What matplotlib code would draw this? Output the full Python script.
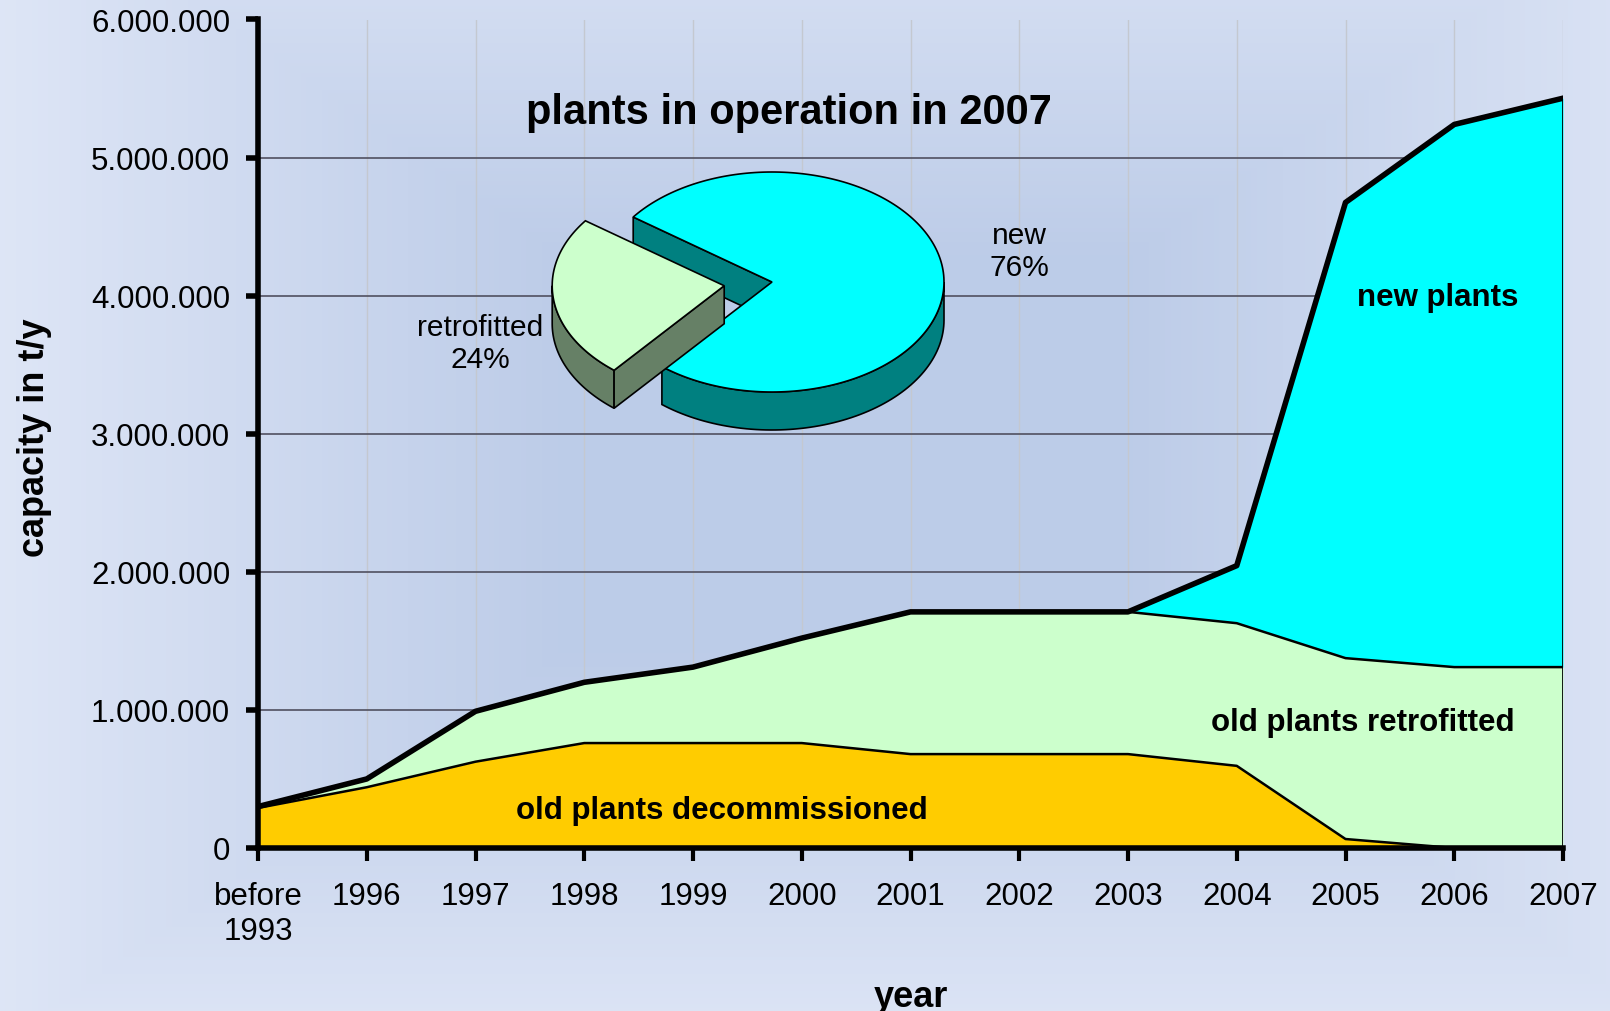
import numpy as np
import matplotlib
matplotlib.use("Agg")
import matplotlib.pyplot as plt
from matplotlib.patches import Polygon
from matplotlib.ticker import FuncFormatter

plt.rcParams['font.family'] = ['Liberation Sans', 'DejaVu Sans']

# data (t/y)
years = ["before\n1993", "1996", "1997", "1998", "1999", "2000", "2001",
         "2002", "2003", "2004", "2005", "2006", "2007"]
decommissioned = [290000, 440000, 625000, 760000, 760000, 760000, 680000,
                  680000, 680000, 595000, 65000, 0, 0]
retrofitted = [10000, 60000, 365000, 440000, 550000, 760000, 1030000,
               1030000, 1030000, 1033000, 1310000, 1310000, 1310000]
new_plants = [0, 0, 0, 0, 0, 0, 0, 0, 0, 417000, 3300000, 3930000, 4120000]

pie_labels = ["new", "retrofitted"]
pie_shares = [76, 24]

W, H = 1610, 1012
fig = plt.figure(figsize=(W / 100, H / 100), dpi=100)

# background: rectangular gradient, dark in the middle, light at the edges
bg = fig.add_axes([0, 0, 1, 1], zorder=-2)
gx = np.linspace(-1, 1, 300)
gy = np.linspace(-1, 1, 300)
GX, GY = np.meshgrid(gx, gy)
d = np.maximum(np.abs(GX - 0.05), np.abs(GY - 0.1) * 0.9)
t = np.clip((d - 0.35) / 0.7, 0, 1)[..., None]
centre = np.array([0.74, 0.80, 0.91])
edge = np.array([0.87, 0.90, 0.965])
img = centre * (1 - t) + edge * t
bg.imshow(img, extent=[0, 1, 0, 1], aspect='auto', origin='lower')
bg.axis('off')

ax = fig.add_axes([258 / W, 1 - 849 / H, (1563 - 258) / W, (849 - 20.5) / H], zorder=1)
ax.patch.set_alpha(0)

x = np.arange(len(years))
dec = np.array(decommissioned)
ret = dec + np.array(retrofitted)
tot = ret + np.array(new_plants)

ax.fill_between(x, 0, dec, color='#ffcc00', zorder=3, lw=0)
ax.fill_between(x, dec, ret, color='#ccffcc', zorder=3, lw=0)
ax.fill_between(x, ret, tot, color='#00ffff', zorder=3, lw=0)
ax.plot(x, dec, color='black', lw=1.8, zorder=4)
ax.plot(x, ret, color='black', lw=1.8, zorder=4)
ax.plot(x, tot, color='black', lw=4, zorder=5, solid_joinstyle='round')
ax.plot([x[-1], x[-1]], [0, tot[-1]], color='black', lw=2, zorder=4)

ax.set_xlim(0, len(years) - 1)
ax.set_ylim(0, 6000000)
ax.set_yticks(np.arange(0, 6000001, 1000000))
ax.yaxis.set_major_formatter(FuncFormatter(lambda v, p: f"{int(v):,}".replace(",", ".")))
ax.set_xticks(x)
ax.set_xticklabels(years)

for v in range(1, 7):
    ax.axhline(v * 1000000, color='#505060', lw=1.2, zorder=2)
for xi in x[1:]:
    ax.axvline(xi, color='#c4c8d0', lw=1, zorder=1)

for s in ['top', 'right']:
    ax.spines[s].set_visible(False)
for s in ['left', 'bottom']:
    ax.spines[s].set_linewidth(4)
    ax.spines[s].set_zorder(6)
ax.tick_params(axis='y', length=9, width=4, pad=11, labelsize=22.5)
ax.tick_params(axis='x', length=9, width=3, pad=15, labelsize=22.5)

ax.set_ylabel("capacity in t/y", fontsize=26, fontweight='bold')
ax.yaxis.set_label_coords(-0.158, 0.497)
ax.set_xlabel("year", fontsize=26, fontweight='bold')
ax.xaxis.set_label_coords(0.5, -0.158)

ax.text(10.85, 3990000, "new plants", fontsize=22.5, fontweight='bold',
        ha='center', va='center', zorder=7)
ax.text(10.16, 915000, "old plants retrofitted", fontsize=22.5, fontweight='bold',
        ha='center', va='center', zorder=7)
ax.text(4.27, 275000, "old plants decommissioned", fontsize=22.5, fontweight='bold',
        ha='center', va='center', zorder=7)

# 3d pie inset drawn in pixel space
pa = fig.add_axes([0, 0, 1, 1], zorder=5)
pa.set_xlim(0, W)
pa.set_ylim(H, 0)
pa.axis('off')
pa.patch.set_alpha(0)

cx, cy, rx, ry, depth = 772, 283, 172, 110, 38
explode = 0.28


def ept(a, ox, oy, dz=0):
    r = np.radians(a)
    return np.column_stack([ox + rx * np.cos(r), oy - ry * np.sin(r) + dz])


def draw_slice(a0, a1, ox, oy, top, side):
    # outer rim, only the front half is visible
    for lo, hi in [(180, 360), (540, 720)]:
        s, e = max(a0, lo), min(a1, hi)
        if e > s:
            aa = np.linspace(s, e, 80)
            up = ept(aa, ox, oy)
            dn = ept(aa[::-1], ox, oy, depth)
            pa.add_patch(Polygon(np.vstack([up, dn]), closed=True, fc=side, ec='black', lw=1.2))
    # radial walls facing the viewer
    for a, vis in [(a0, np.cos(np.radians(a0)) > 0), (a1, np.cos(np.radians(a1)) < 0)]:
        if vis:
            p = ept(np.array([a]), ox, oy)[0]
            pts = [[ox, oy], p, [p[0], p[1] + depth], [ox, oy + depth]]
            pa.add_patch(Polygon(pts, closed=True, fc=side, ec='black', lw=1.2))
    aa = np.linspace(a0, a1, 200)
    pts = np.vstack([[ox, oy], ept(aa, ox, oy)])
    pa.add_patch(Polygon(pts, closed=True, fc=top, ec='black', lw=1.2))


span_ret = 360 * pie_shares[1] / sum(pie_shares)
mid = 187
r0, r1 = mid - span_ret / 2, mid + span_ret / 2
draw_slice(r1, r0 + 360, cx, cy, '#00ffff', '#008080')
ox = cx + explode * rx * np.cos(np.radians(mid))
oy = cy - explode * ry * np.sin(np.radians(mid))
draw_slice(r0, r1, ox, oy, '#ccffcc', '#668066')

pa.text(789, 113, "plants in operation in 2007", fontsize=30, fontweight='bold',
        ha='center', va='center')
pa.text(1019, 252, f"{pie_labels[0]}\n{pie_shares[0]}%", fontsize=21.5,
        ha='center', va='center')
pa.text(480, 344, f"{pie_labels[1]}\n{pie_shares[1]}%", fontsize=21.5,
        ha='center', va='center')

fig.savefig("out.png", dpi=100)
